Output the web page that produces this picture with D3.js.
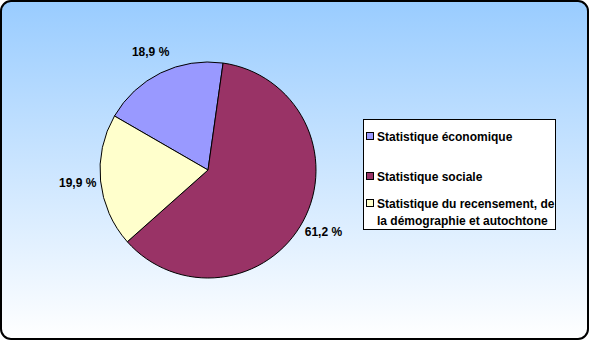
<!DOCTYPE html>
<html>
<head>
<meta charset="utf-8">
<script src="https://cdn.jsdelivr.net/npm/d3@7"></script>
<style>
  body { margin: 0; background: #fff; }
  svg { display: block; font-family: "Liberation Sans", Arial, sans-serif; }
</style>
</head>
<body>
<div id="chart"></div>
<script>
// data
const categories = ["Statistique économique", "Statistique sociale", "Statistique du recensement, de|la démographie et autochtone"];
const values = [18.9, 61.2, 19.9];
const valueLabels = ["18,9 %", "61,2 %", "19,9 %"];
const colors = ["#9999FF", "#993366", "#FFFFCC"];

const width = 590, height = 341;
const cx = 208, cy = 170, radius = 108;

const svg = d3.select("#chart").append("svg")
  .attr("width", width)
  .attr("height", height);

// background gradient
const defs = svg.append("defs");
const grad = defs.append("linearGradient")
  .attr("id", "bg")
  .attr("x1", 0).attr("y1", 0).attr("x2", 0).attr("y2", 1);
grad.append("stop").attr("offset", "0%").attr("stop-color", "#99CCFF");
grad.append("stop").attr("offset", "100%").attr("stop-color", "#FFFFFF");

svg.append("rect")
  .attr("x", 1).attr("y", 1)
  .attr("width", width - 3).attr("height", height - 3)
  .attr("rx", 10).attr("ry", 10)
  .attr("fill", "url(#bg)")
  .attr("stroke", "#000")
  .attr("stroke-width", 2);

// pie
const pie = d3.pie()
  .sort(null)
  .startAngle(300 * Math.PI / 180)
  .endAngle(660 * Math.PI / 180);

const arcs = pie(values);
const arc = d3.arc().innerRadius(0).outerRadius(radius);
const labelArc = d3.arc().innerRadius(131).outerRadius(131);

const g = svg.append("g").attr("transform", `translate(${cx},${cy})`);

g.selectAll("path")
  .data(arcs)
  .join("path")
  .attr("d", arc)
  .attr("fill", (d, i) => colors[i])
  .attr("stroke", "#000")
  .attr("stroke-width", 1);

g.selectAll("text")
  .data(arcs)
  .join("text")
  .attr("x", d => labelArc.centroid(d)[0])
  .attr("y", d => labelArc.centroid(d)[1])
  .attr("text-anchor", "middle")
  .attr("dy", "0.35em")
  .attr("font-size", 12)
  .attr("font-weight", "bold")
  .text((d, i) => valueLabels[i]);

// legend
const legend = svg.append("g");
legend.append("rect")
  .attr("x", 363.5).attr("y", 119.5)
  .attr("width", 192).attr("height", 110)
  .attr("fill", "#fff")
  .attr("stroke", "#000")
  .attr("stroke-width", 1);

const rowY = [141, 181, 208];
categories.forEach((c, i) => {
  const lines = c.split("|");
  legend.append("rect")
    .attr("x", 366.5).attr("y", rowY[i] - 8.5)
    .attr("width", 7).attr("height", 7)
    .attr("fill", colors[i])
    .attr("stroke", "#000")
    .attr("stroke-width", 1);
  lines.forEach((ln, j) => {
    legend.append("text")
      .attr("x", 377)
      .attr("y", rowY[i] + j * 17)
      .attr("font-size", 12)
      .attr("font-weight", "bold")
      .text(ln);
  });
});
</script>
</body>
</html>
